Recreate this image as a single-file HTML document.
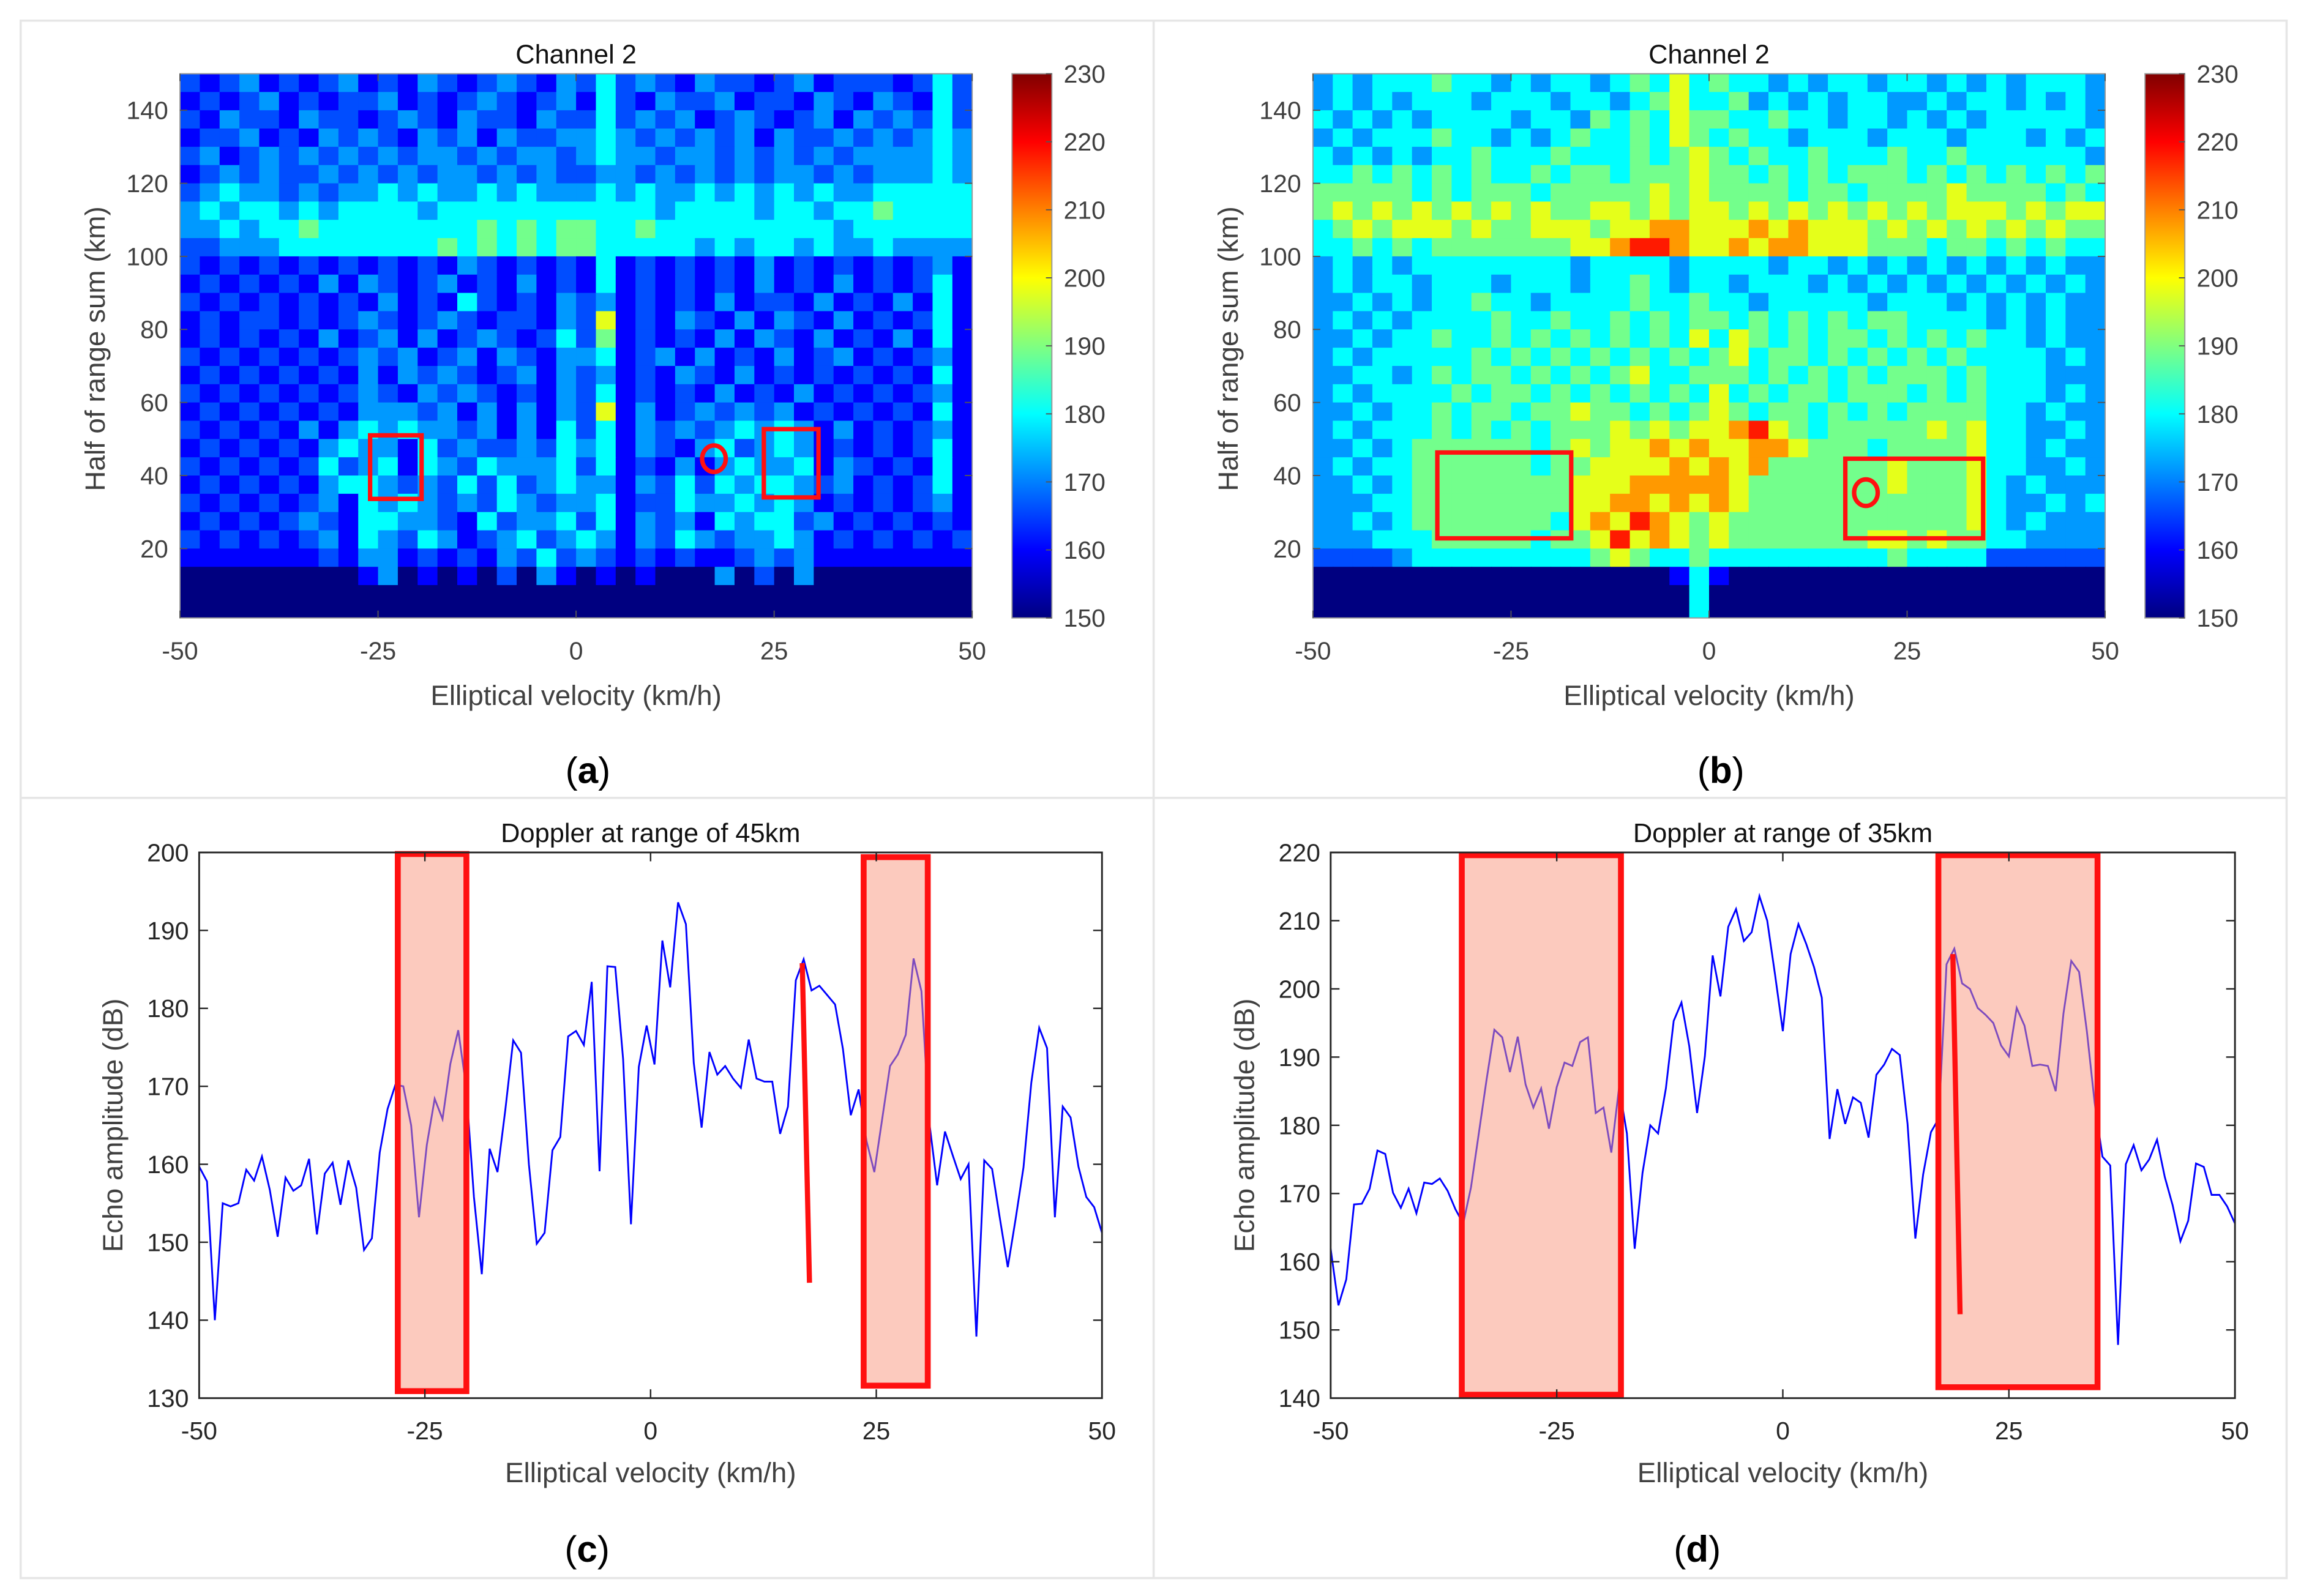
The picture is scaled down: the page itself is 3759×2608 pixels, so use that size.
<!DOCTYPE html>
<html><head><meta charset="utf-8"><style>
html,body{margin:0;padding:0;background:#fff;}
svg{display:block;}
text{font-family:"Liberation Sans",sans-serif;}
</style></head><body>
<svg id="fig" width="3759" height="2608" viewBox="0 0 1559.75 1082.16" xmlns="http://www.w3.org/2000/svg">
<rect x="0" y="0" width="1559.75" height="1082.16" fill="#fff"/>
<g stroke="#e6e6e6" stroke-width="1.5" fill="none">
<rect x="14" y="14" width="1536" height="1056"/>
<line x1="782" y1="14" x2="782" y2="1070"/>
<line x1="14" y1="541" x2="1550" y2="541"/>
</g>
<g id="root"></g>
</svg>
<script>
// ---------- DATA ----------
const levelValues = [150,160,166,172,180,189,198,208,218,226];
const heatA = [
"2123121231213212321324232132212312221242",
"1212312122312123212314213223122132132142",
"2132213221232132213224232312321231323242",
"1223121323213231322334323232313223232343",
"2312323232323323233234332332323232333343",
"1232322323232332323223323232323323233343",
"2343323233434334343334343343434343344444",
"3434434344443444444444443444434434454444",
"3343445444444445454554454444444443444444",
"2233344444444545454554444434344343343333",
"2121212121212132121214121212131212121231",
"1212121313212312131214121212131213121241",
"2121212121312142121323121213122131213141",
"1212212123212321221326121321313213121241",
"1212121312313123212425121213132131213141",
"2121212123231231321334123131213123121231",
"1212121213132321231323121321312121212141",
"2121212123213232121324121213121312121231",
"1212121213332313131326131232323121212141",
"2121213134343323131424132323434313121231",
"1212121343314232232434132134234312121241",
"2121212423414324333424121313433413212141",
"1212121344323242423433132424344323121241",
"2121212314343232432334122433434312121231",
"1212123214433214233424132314344231212121",
"2121212314324312342343132432334312121212",
"1111111213312121324232121211232311111111",
"0000000001301010203101010003020300000000",
"0000000000000000000000000000000000000000",
"0000000000000000000000000000000000000000"];
const heatB = [
"3434445443434434546454434344344343434443",
"3434344434443443456445343434433434434343",
"4343434444344354546554454434434343444443",
"3434445443434544546545443444344434443434",
"4343434454445444545654544544454454444443",
"4454545454454554555655454545554545454545",
"5555545455545555565655554554555565555454",
"5656565656565566565665656565656566656566",
"4565666565566656677666767666565656565655",
"4454545555555667887667677666555455454544",
"3434344444444344443444434434343434343433",
"3434434443444344543443444343434343434343",
"3343434454434444544544344444344434343433",
"3434344445445445454554545454554444343433",
"3343445445454545454646545455454545443433",
"3434444454545454545456455454545454444343",
"3344345455454545644555454545455545444333",
"3434444545545454545464545545554545444343",
"3343445455455655454565455454545555443433",
"3434445454545556565667865455555656443343",
"3343455555545656676766776555455556443433",
"3434455555545566667676755555565556443343",
"3343455555555666777776555555565556434333",
"3334455555555667767676555555555556433434",
"3343455555554676876565555555555556434333",
"3334445555545568676565555555665655443333",
"2222344444444456544544444444454444222222",
"0000000000000000001410000000000000000000",
"0000000000000000000400000000000000000000",
"0000000000000000000400000000000000000000"];
const velTicks = [-50,-25,0,25,50];
const rangeTicks = [20,40,60,80,100,120,140];
const cbarTicks = [150,160,170,180,190,200,210,220,230];
const ampC = [159.7,157.8,140,155,154.6,155,159.3,157.9,161,156.7,150.7,158.3,156.6,157.3,160.7,151,158.8,160.2,154.8,160.5,157,149,150.5,161.5,167.1,170.2,170,165,153.2,162.5,168.4,165.8,172.9,177.2,170,155.8,145.9,162,159,167,175.9,174.3,160,149.8,151.2,161.8,163.5,176.4,177.1,175.3,183.4,159.1,185.4,185.3,173.5,152.3,172.5,177.8,172.8,188.7,182.7,193.6,190.8,173,164.7,174.4,171.5,172.6,171,169.8,176,171,170.6,170.6,163.9,167.4,183.6,186.3,182.3,182.9,181.7,180.5,174.8,166.3,169.6,163,159,165.8,172.6,174.1,176.6,186.4,182.2,165.4,157.3,164.2,161.1,158.1,160,137.9,160.5,159.4,153,146.8,153,159.6,170.5,177.5,174.9,153.2,167.4,166,159.7,155.8,154.5,151.2];
const ampD = [161.9,153.6,157.4,168.4,168.5,170.7,176.3,175.8,170.1,167.9,170.7,167.1,171.6,171.4,172.2,170.4,167.7,165.6,170.9,178.8,186.7,194,192.9,187.8,193,186,182.6,185.4,179.5,185.6,189.2,188.7,192.2,192.9,181.8,182.6,176,185.6,178.8,161.9,173,180,178.8,185.4,195.3,198,191.6,181.8,190.1,204.9,198.9,209.1,211.7,207,208.3,213.6,210,202.1,193.8,205.1,209.5,206.6,203.2,198.7,178,185.3,180.2,184.1,183.3,178.2,187.4,188.9,191.2,190.3,180.2,163.4,172.8,179,181,203.6,205.9,200.8,200,197.2,196.2,195,191.7,190.1,197.2,194.6,188.7,188.9,188.7,185,196.4,204.1,202.5,193.8,183.3,175.4,174.1,147.8,174.3,177.1,173.4,175,177.9,172.4,168.3,163,166,174.4,173.9,169.8,169.8,168.1,165.6];
const ampTicksC = [130,140,150,160,170,180,190,200];
const ampTicksD = [140,150,160,170,180,190,200,210,220];
const boxesA = [[-26,-19.5,33.6,51],[23.7,30.6,34,52.7]];
const circleA = [17.4,44.6];
const boxesB = [[-34.3,-17.4,22.8,46.3],[17.2,34.6,22.8,44.6]];
const circleB = [19.8,35.3];
const boxesC = [[-28,-20.4,130.9,199.8],[23.6,30.7,131.6,199.4]];
const markC = [[16.8,185.8],[17.6,144.8]];
const boxesD = [[-35.5,-17.9,140.5,219.6],[17.2,34.8,141.6,219.6]];
const markD = [[18.8,205.1],[19.6,152.3]];

// ---------- HELPERS ----------
const NS="http://www.w3.org/2000/svg";
const root=document.getElementById('root');
function mk(tag,attrs,parent){const e=document.createElementNS(NS,tag);for(const k in attrs)e.setAttribute(k,attrs[k]);(parent||root).appendChild(e);return e;}
function lin(d0,d1,r0,r1){return v=>r0+(v-d0)*(r1-r0)/(d1-d0);}
function jet(t){t=Math.max(0,Math.min(1,t));const c=x=>Math.round(255*Math.max(0,Math.min(1,1.5-Math.abs(x))));return `rgb(${c(4*t-3)},${c(4*t-2)},${c(4*t-1)})`;}
function txt(x,y,s,size,fill,anchor,parent,extra){const e=mk('text',Object.assign({x:x,y:y,'font-size':size,fill:fill,'text-anchor':anchor||'middle'},extra||{}),parent);e.textContent=s;return e;}

function heatPanel(id,px0,px1,py0,py1,cb0,grid,boxes,circ,letter){
  const g=mk('g',{});
  
  
  const X=lin(-50,50,px0,px1), Y=lin(1,150,py1,py0);
  const clip=mk('clipPath',{id:'clip'+id},g);mk('rect',{x:px0,y:py0,width:px1-px0,height:py1-py0},clip);
  const cells=mk('g',{'clip-path':`url(#clip${id})`},g);
  
  
  const nr=grid.length,nc=grid[0].length;
  for(let r=0;r<nr;r++)for(let c=0;c<nc;c++){
    const v=levelValues[+grid[r][c]];
    const x0=X(-50+c*100/nc),x1=X(-50+(c+1)*100/nc),y0=Y(150-r*150/nr),y1=Y(150-(r+1)*150/nr);
    const cell=mk('rect',{x:x0,y:y0,width:x1-x0+0.4,height:y1-y0+0.4,fill:jet((v-150)/80)},cells);
    
    
  }
  mk('rect',{x:px0,y:py0,width:px1-px0,height:py1-py0,fill:'none',stroke:'#999','stroke-width':0.8},g);
  velTicks.forEach(t=>{const x=X(t);mk('line',{x1:x,x2:x,y1:py1,y2:py1-5,stroke:'#555','stroke-width':0.8},g);mk('line',{x1:x,x2:x,y1:py0,y2:py0+5,stroke:'#555','stroke-width':0.8},g);
    const l=txt(x,py1+28,String(t),17,'#404040','middle',g);});
  rangeTicks.forEach(t=>{const y=Y(t);mk('line',{x1:px0,x2:px0+5,y1:y,y2:y,stroke:'#555','stroke-width':0.8},g);mk('line',{x1:px1,x2:px1-5,y1:y,y2:y,stroke:'#555','stroke-width':0.8},g);
    const l=txt(px0-8,y+6,String(t),17,'#404040','end',g);});
  boxes.forEach(b=>{const r=mk('rect',{x:X(b[0]),y:Y(b[3]),width:X(b[1])-X(b[0]),height:Y(b[2])-Y(b[3]),fill:'none',stroke:'#ff1010','stroke-width':3},g);
    });
  const ci=mk('ellipse',{cx:X(circ[0]),cy:Y(circ[1]),rx:8,ry:9,fill:'none',stroke:'#ff1010','stroke-width':3},g);
  
  const t=txt((px0+px1)/2,43,'Channel 2',18,'#111','middle',g);
  const xl=txt((px0+px1)/2,478,'Elliptical velocity (km/h)',19,'#404040','middle',g);
  const yl=txt(0,0,'Half of range sum (km)',19,'#404040','middle',g,{transform:`translate(${px0-51},${(py0+py1)/2+2}) rotate(-90)`});
  const defs=mk('defs',{},g);const lg=mk('linearGradient',{id:'jet'+id,x1:0,y1:1,x2:0,y2:0},defs);
  for(let i=0;i<=16;i++)mk('stop',{offset:i/16,'stop-color':jet(i/16)},lg);
  const cb=mk('rect',{x:cb0,y:py0,width:27,height:py1-py0,fill:`url(#jet${id})`,stroke:'#999','stroke-width':0.8},g);
  
  const CY=lin(150,230,py1,py0);
  cbarTicks.forEach(v=>{const y=CY(v);mk('line',{x1:cb0+27,x2:cb0+23,y1:y,y2:y,stroke:'#555','stroke-width':0.8},g);
    const l=txt(cb0+35,y+6,String(v),17,'#404040','start',g);});
  const pl=mk('text',{x:(px0+px1)/2+8,y:531,'font-size':25,'text-anchor':'middle',fill:'#000','font-family':'"Liberation Serif",serif'},g);
  pl.innerHTML=`(<tspan font-weight="bold">${letter}</tspan>)`;
}

function linePanel(id,px0,px1,py0,py1,ymin,ymax,yticks,amps,boxes,mark,title,letter){
  const g=mk('g',{});
  
  
  const X=lin(-50,50,px0,px1), Y=lin(ymin,ymax,py1,py0);
  const n=amps.length;
  const pts=amps.map((a,i)=>`${X(-50+i*100/(n-1)).toFixed(2)},${Y(a).toFixed(2)}`).join(' ');
  const pl=mk('polyline',{points:pts,fill:'none',stroke:'#0000ff','stroke-width':1.2},g);
  
  boxes.forEach(b=>{const r=mk('rect',{x:X(b[0]),y:Y(b[3]),width:X(b[1])-X(b[0]),height:Y(b[2])-Y(b[3]),fill:'rgba(250,150,125,0.5)',stroke:'#ff1010','stroke-width':4},g);
    });
  const ml=mk('line',{x1:X(mark[0][0]),y1:Y(mark[0][1]),x2:X(mark[1][0]),y2:Y(mark[1][1]),stroke:'#ff1010','stroke-width':3.5},g);
  
  mk('rect',{x:px0,y:py0,width:px1-px0,height:py1-py0,fill:'none',stroke:'#262626','stroke-width':1.2},g);
  velTicks.forEach(t=>{const x=X(t);mk('line',{x1:x,x2:x,y1:py1,y2:py1-6,stroke:'#262626','stroke-width':1},g);mk('line',{x1:x,x2:x,y1:py0,y2:py0+6,stroke:'#262626','stroke-width':1},g);
    const l=txt(x,py1+28,String(t),17,'#262626','middle',g);});
  yticks.forEach(t=>{const y=Y(t);mk('line',{x1:px0,x2:px0+6,y1:y,y2:y,stroke:'#262626','stroke-width':1},g);mk('line',{x1:px1,x2:px1-6,y1:y,y2:y,stroke:'#262626','stroke-width':1},g);
    const l=txt(px0-7,y+6,String(t),17,'#262626','end',g);});
  const t=txt((px0+px1)/2,571,title,18,'#111','middle',g);
  const xl=txt((px0+px1)/2,1005,'Elliptical velocity (km/h)',19,'#404040','middle',g);
  const yl=txt(0,0,'Echo amplitude (dB)',19,'#404040','middle',g,{transform:`translate(${px0-52},${(py0+py1)/2}) rotate(-90)`});
  const pt=mk('text',{x:(px0+px1)/2-43+(letter==='d'?-15:0),y:1059,'font-size':25,'text-anchor':'middle',fill:'#000','font-family':'"Liberation Serif",serif'},g);
  pt.innerHTML=`(<tspan font-weight="bold">${letter}</tspan>)`;
}

heatPanel('a',122,659,50,419,686,heatA,boxesA,circleA,'a');
heatPanel('b',890,1427,50,419,1454,heatB,boxesB,circleB,'b');
linePanel('c',135,747,578,948,130,200,ampTicksC,ampC,boxesC,markC,'Doppler at range of 45km','c');
linePanel('d',902,1515,578,948,140,220,ampTicksD,ampD,boxesD,markD,'Doppler at range of 35km','d');
</script>
</body></html>
